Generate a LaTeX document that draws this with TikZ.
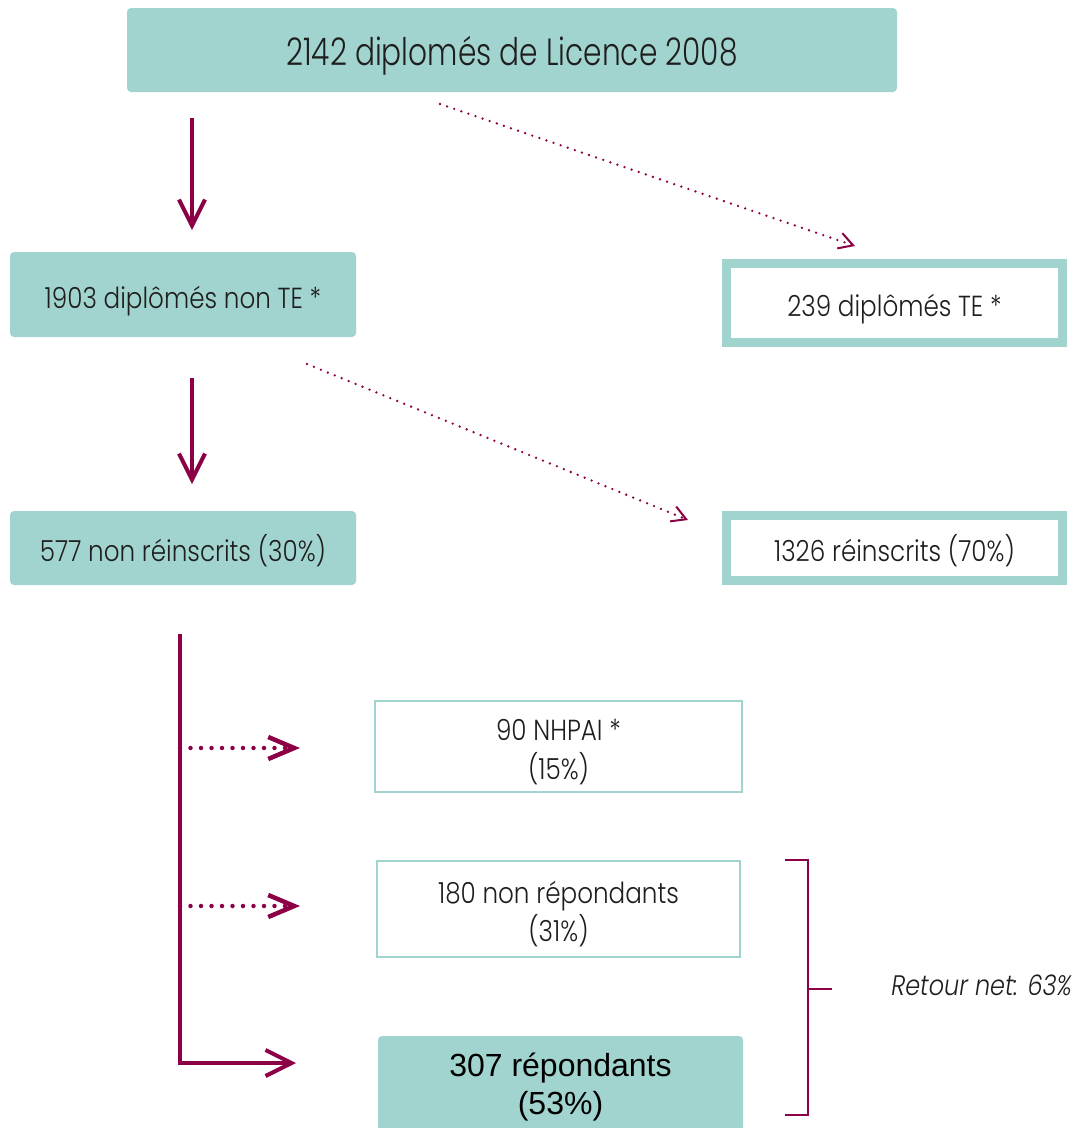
\documentclass[tikz,border=0pt]{standalone}
\usepackage{fontspec}
\usetikzlibrary{arrows.meta}
\IfFontExistsTF{Poppins Light}{%
  \newfontfamily\fut[FakeStretch=0.85]{Poppins Light}%
  \newfontfamily\futb[FakeStretch=0.78]{Poppins Light}}{%
  \newfontfamily\fut[FakeStretch=0.85]{Poppins}%
  \newfontfamily\futb[FakeStretch=0.78]{Poppins}}
\newfontfamily\arl{Liberation Sans}
\definecolor{boxteal}{HTML}{A2D4CF}
\definecolor{wine}{HTML}{8C0046}
\definecolor{ink}{HTML}{1E1E1E}
\newcommand\dn[1]{\raisebox{-6pt}[\height][\depth]{\begin{tabular}{@{}c@{}}#1\end{tabular}}}
\tikzset{
  fillbox/.style={rectangle, fill=boxteal, rounded corners=4pt, text=ink, align=center, inner sep=0pt},
  thickbox/.style={rectangle, draw=boxteal, line width=9pt, fill=white, text=ink, align=center, inner sep=0pt},
  thinbox/.style={rectangle, draw=boxteal, line width=2pt, fill=white, text=ink, align=center, inner sep=0pt},
  solidarrow/.style={draw=wine, line width=4pt, -{Straight Barb[length=26pt,width=26pt]}},
  thindots/.style={draw=wine, line width=2.6pt, line cap=round, dash pattern=on 0pt off 7.5pt, -{Straight Barb[length=14pt,width=16pt,line width=2pt]}},
  thickdots/.style={draw=wine, line width=4.5pt, line cap=round, dash pattern=on 0pt off 10.5pt, -{Straight Barb[length=26pt,width=22pt]}},
  bracket/.style={draw=wine, line width=2.5pt},
  bigtxt/.style={font=\futb\fontsize{38}{46}\selectfont},
  midtxt/.style={font=\fut\fontsize{29}{38}\selectfont},
}
\begin{document}
\begin{tikzpicture}[x=1pt,y=-1pt]
\useasboundingbox[fill=white] (0,0) rectangle (1074,1128);
% boxes
\node[fillbox, bigtxt, minimum width=770pt, minimum height=84pt] (top) at (512,50) {\dn{2142 diplomés de Licence 2008}};
\node[fillbox, midtxt, minimum width=346pt, minimum height=85pt] (nonte) at (183,294.5) {\dn{1903 diplômés non TE *}};
\node[thickbox, midtxt, minimum width=336pt, minimum height=79pt] (te) at (894.5,303) {\dn{239 diplômés TE *}};
\node[fillbox, midtxt, minimum width=346pt, minimum height=74pt] (nonre) at (183,548) {\dn{577 non réinscrits (30\%)}};
\node[thickbox, midtxt, minimum width=336pt, minimum height=65pt] (re) at (894.5,548) {\dn{1326 réinscrits (70\%)}};
\node[thinbox, midtxt, minimum width=367pt, minimum height=91pt] (nhpai) at (558.5,746.5) {\dn{90 NHPAI *\\(15\%)}};
\node[thinbox, midtxt, minimum width=363pt, minimum height=96pt] (nonrep) at (558.5,909) {\dn{180 non répondants\\(31\%)}};
\node[fillbox, font=\arl\fontsize{32}{38}\selectfont, text=black, minimum width=365pt, minimum height=102pt] (rep) at (560.5,1087) {307 répondants\\(53\%)};
\node[text=ink, font=\fut\itshape\fontsize{28.2}{32}\selectfont, anchor=east, inner sep=0pt] (net) at (1072,985) {Retour net: 63\%};
% connector end points
\coordinate (a1s) at (192,118); \coordinate (a1e) at (192,230);
\coordinate (a2s) at (192,378); \coordinate (a2e) at (192,484);
\coordinate (d1s) at (440,104); \coordinate (d1e) at (855,246);
\coordinate (d2s) at (307,364); \coordinate (d2e) at (688,520);
\coordinate (ls) at (180,634); \coordinate (lc) at (180,1063); \coordinate (le) at (296,1063);
\coordinate (b1s) at (180,748); \coordinate (b1e) at (300,748);
\coordinate (b2s) at (180,906); \coordinate (b2e) at (300,906);
\coordinate (bt) at (785,860); \coordinate (btr) at (808,860);
\coordinate (bbr) at (808,1115); \coordinate (bb) at (785,1115);
\coordinate (bm) at (808,989); \coordinate (bme) at (832,989);
% connectors
\draw[solidarrow] (a1s) -- (a1e);
\draw[solidarrow] (a2s) -- (a2e);
\draw[thindots] (d1s) -- (d1e);
\draw[thindots] (d2s) -- (d2e);
\draw[thickdots] (b1s) -- (b1e);
\draw[thickdots] (b2s) -- (b2e);
\draw[solidarrow] (ls) -- (lc) -- (le);
\draw[bracket] (bt) -- (btr) -- (bbr) -- (bb);
\draw[bracket] (bm) -- (bme);
\end{tikzpicture}
\end{document}
